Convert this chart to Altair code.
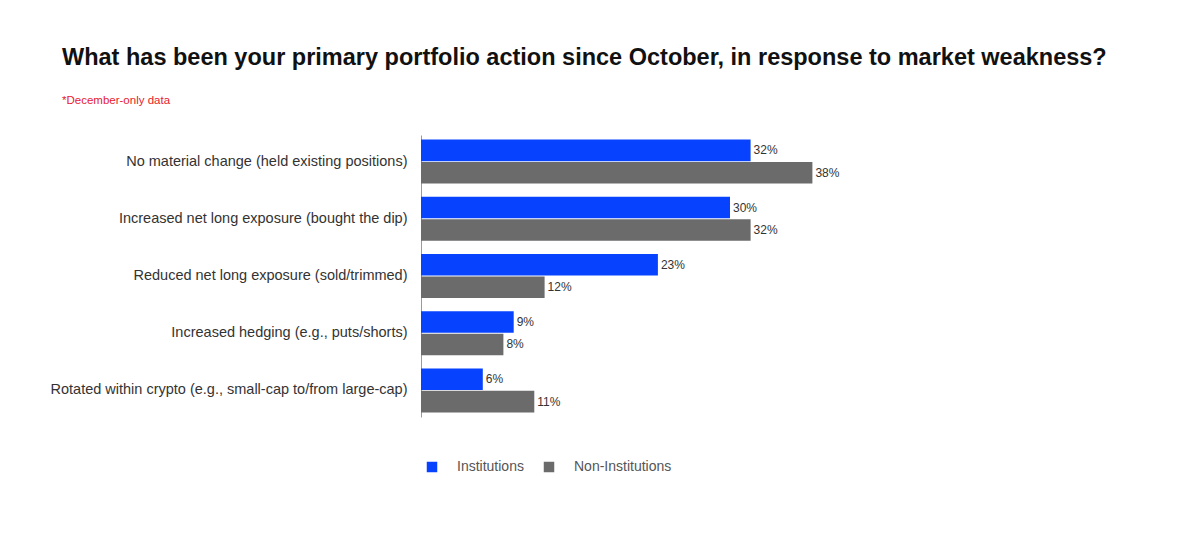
import altair as alt
import pandas as pd

categories = [
    "No material change (held existing positions)",
    "Increased net long exposure (bought the dip)",
    "Reduced net long exposure (sold/trimmed)",
    "Increased hedging (e.g., puts/shorts)",
    "Rotated within crypto (e.g., small-cap to/from large-cap)",
]
series = ["Institutions", "Non-Institutions"]
institutions = [32, 30, 23, 9, 6]
non_institutions = [38, 32, 12, 8, 11]
colors = ["#0743FF", "#6B6B6B"]

rows = []
for c, a, b in zip(categories, institutions, non_institutions):
    rows.append({"action": c, "group": series[0], "value": a, "label": f"{a}%"})
    rows.append({"action": c, "group": series[1], "value": b, "label": f"{b}%"})
df = pd.DataFrame(rows)

FONT = "Liberation Sans"

base = alt.Chart(df).encode(
    y=alt.Y(
        "action:N",
        sort=categories,
        scale=alt.Scale(paddingInner=0.23, paddingOuter=0.08),
        axis=alt.Axis(
            title=None,
            ticks=False,
            domainColor="#9a9a9a",
            domainWidth=1,
            labelPadding=14,
            labelFontSize=14.5,
            labelColor="#333333",
            labelFont=FONT,
            labelLimit=500,
        ),
    ),
    yOffset=alt.YOffset("group:N", sort=series, scale=alt.Scale(paddingInner=0.04)),
    x=alt.X("value:Q", scale=alt.Scale(domain=[0, 40]), axis=None),
)

bars = base.mark_bar().encode(
    color=alt.Color(
        "group:N",
        sort=series,
        scale=alt.Scale(domain=series, range=colors),
        legend=alt.Legend(
            title=None,
            orient="none",
            direction="horizontal",
            legendX=4,
            legendY=325,
            symbolType="square",
            symbolSize=110,
            symbolStrokeWidth=0,
            labelFontSize=14,
            labelColor="#555555",
            labelFont=FONT,
            labelOffset=18,
            columnPadding=18,
        ),
    )
)

labels = base.mark_text(
    align="left", baseline="middle", dx=3, fontSize=12, color="#333333", font=FONT
).encode(text="label:N")

chart = (
    alt.layer(bars, labels)
    .properties(
        width=412,
        height=282,
        background="white",
        autosize=alt.AutoSizeParams(type="none"),
        padding={"left": 421, "top": 135, "right": 347, "bottom": 125},
        title=alt.TitleParams(
            text="What has been your primary portfolio action since October, in response to market weakness?",
            subtitle="*December-only data",
            anchor="start",
            frame="group",
            dx=-359,
            offset=29,
            font=FONT,
            fontSize=23.5,
            fontWeight="bold",
            color="#111111",
            subtitleFont=FONT,
            subtitleFontSize=11.5,
            subtitleColor="#E8202E",
            subtitlePadding=25,
        ),
    )
    .configure_view(strokeWidth=0)
)

chart.save("out.html", embed_options={"renderer": "svg", "actions": False})
